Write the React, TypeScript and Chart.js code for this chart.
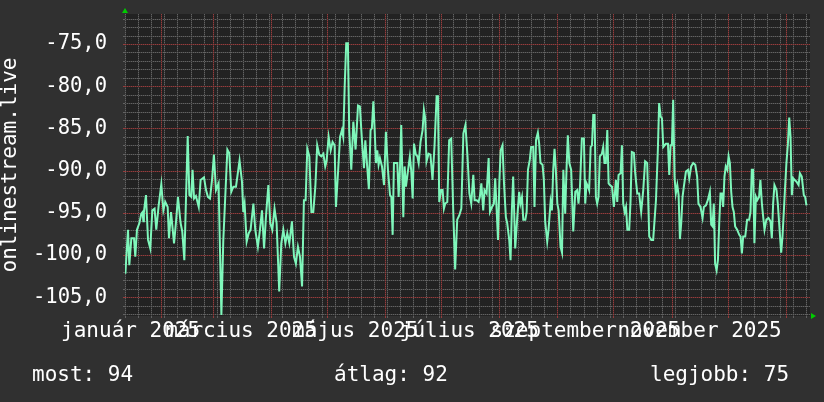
import React, { useEffect, useRef } from 'react';
import { Chart, registerables } from 'chart.js';

Chart.register(...registerables);

// ---- data (days counted from 2025-01-13) ----
const seriesName = 'onlinestream.live';

const days = [
  0.2, 1.6, 2.3, 3.4, 4.8, 5.5, 6.4, 7.7, 8.7, 9.4, 9.8, 10.1, 11.2, 12.3, 13.5, 14.6, 15.8, 16.7, 18.0, 19.4, 20.5, 21.5, 22.8, 23.5, 24.6, 26.2, 27.2, 28.3, 29.7, 30.6, 31.7, 33.5, 34.4, 35.4, 36.1, 36.9, 37.9, 39.4, 40.4, 42.2, 43.3, 44.3, 45.4, 46.5, 47.5, 48.6, 50.0, 51.5, 52.5, 54.7, 55.7, 56.8, 57.9, 59.3, 61.2,
  62.5, 63.2, 63.9, 65.0, 66.1, 67.1, 68.6, 69.6, 71.0, 72.1, 73.2, 74.3, 75.3, 76.6, 77.6, 78.7, 79.9, 81.0, 82.4, 83.5, 84.6, 85.7, 86.7, 87.8, 89.2, 90.3, 91.3, 92.4, 93.5, 94.6, 95.6, 96.5, 97.4, 98.5, 99.6, 100.6, 101.7, 102.7, 103.8, 104.9, 106.0, 107.0, 107.7, 108.8, 109.9, 110.9, 112.0, 112.7, 113.8, 114.9, 115.9, 116.6, 117.4, 118.2, 119.1, 119.8, 120.9, 122.0, 123.2,
  124.5, 125.5, 126.6, 127.7, 128.4, 129.4, 130.3, 131.2, 131.9, 132.7, 133.4, 134.1, 134.8, 135.5, 136.2, 137.3, 138.4, 139.4, 140.5, 141.6, 142.3, 143.0, 143.7, 144.8, 145.5, 146.2, 146.9, 147.6, 148.7, 149.4, 150.1, 150.8, 152.2, 152.9, 153.7, 154.4, 155.4, 156.2, 156.9, 157.9, 159.0, 159.7, 160.4, 161.1, 162.2, 163.2, 164.3, 165.4, 166.5, 167.2, 167.9, 168.9, 169.7, 170.4, 171.1, 172.2, 173.2, 174.3, 175.4, 176.4, 177.5, 178.6, 179.7, 180.8, 181.9, 183.0, 184.0, 185.0,
  186.1, 186.8, 187.9, 188.9, 189.6, 190.4, 191.4, 192.1, 193.2, 194.3, 195.0, 196.1, 197.1, 197.8, 198.5, 199.3, 200.0, 200.7, 201.7, 202.5, 203.5, 204.2, 205.3, 206.0, 206.7, 207.4, 208.5, 209.6, 210.6, 211.3, 212.1, 212.8, 213.9, 214.6, 215.3, 216.3, 217.0, 218.1, 218.8, 219.6, 220.6, 221.3, 222.0, 223.1, 223.8, 224.5, 225.6, 226.3, 227.4, 228.1, 228.8, 229.5, 230.2, 231.0, 231.7, 232.7, 233.5, 234.2, 235.2, 235.9, 236.6, 237.4, 238.4, 239.5, 240.6, 241.6, 242.3, 243.1, 244.1, 245.2, 245.9, 246.6, 247.4,
  248.0, 248.8, 249.5, 250.2, 250.9, 251.6, 252.3, 253.0, 253.7, 254.8, 255.5, 256.2, 256.9, 257.7, 258.4, 259.1, 260.2, 261.2, 262.3, 263.0, 263.7, 264.8, 265.5, 266.2, 267.0, 267.7, 268.4, 269.4, 270.1, 270.8, 271.9, 272.6, 273.7, 274.7, 275.8, 276.9, 277.9, 279.0, 280.1, 281.2, 282.2, 282.9, 283.7, 284.7, 285.4, 286.2, 286.9, 287.6, 288.3, 289.0, 290.1, 290.8, 291.5, 292.2, 292.9, 293.6, 294.3, 295.1, 295.8, 296.5, 297.2, 297.9, 298.6, 299.7, 300.8, 301.5, 302.5, 303.6, 304.7, 305.7, 306.4, 307.5, 308.6,
  309.3, 310.4, 311.4, 312.5, 313.2, 313.9, 314.6, 315.3, 316.1, 316.8, 317.5, 318.2, 318.9, 319.6, 320.3, 321.0, 321.8, 322.5, 323.2, 323.9, 324.6, 325.3, 326.0, 327.1, 328.2, 328.9, 329.6, 330.3, 331.4, 332.4, 333.5, 334.2, 334.9, 335.6, 336.3, 337.1, 337.8, 338.8, 339.5, 340.3, 341.0, 341.7, 342.7, 343.8, 344.9, 345.6, 346.3, 347.0, 348.1, 348.8, 349.5, 350.6, 351.3, 352.0, 352.7, 353.4, 354.2, 354.9, 355.6, 356.3, 357.0, 357.8, 358.8, 359.9, 360.6, 361.6, 362.7, 363.4, 364.1,
];

const values = [
  -102.2, -97.0, -101.2, -98.0, -98.0, -100.2, -97.0, -96.2, -95.1, -94.9, -96.0, -94.9, -92.9, -98.2, -99.2, -94.7, -94.5, -97.0, -94.1, -91.6, -94.7, -93.7, -94.3, -98.0, -94.9, -98.6, -96.2, -93.1, -96.2, -97.2, -100.6, -85.9, -92.9, -93.1, -89.9, -93.3, -93.0, -94.3, -91.1, -90.8, -92.3, -93.1, -93.3, -91.1, -88.1, -92.3, -91.5, -107.1, -98.4, -87.5, -87.9, -92.5, -91.9, -91.9, -88.8,
  -91.3, -94.9, -93.9, -98.4, -97.4, -97.0, -93.9, -97.0, -99.0, -97.0, -94.7, -99.2, -95.5, -91.7, -96.2, -97.0, -94.5, -96.2, -104.3, -98.6, -97.0, -98.6, -97.4, -98.6, -96.0, -100.2, -101.0, -99.0, -100.2, -103.7, -93.5, -93.5, -87.4, -88.3, -94.9, -94.9, -91.9, -87.0, -88.1, -88.3, -88.0, -89.5, -88.9, -86.0, -87.6, -86.6, -87.0, -94.3, -90.3, -86.0, -85.2, -86.0, -79.9, -74.9, -74.9, -85.2, -89.9, -84.2, -87.5,
  -82.3, -82.4, -86.4, -89.7, -86.4, -89.5, -92.2, -85.2, -85.0, -81.8, -85.2, -89.1, -87.6, -89.3, -88.5, -89.5, -91.7, -85.4, -89.9, -92.9, -93.1, -97.6, -89.1, -89.1, -89.1, -93.1, -89.9, -84.6, -95.5, -89.5, -91.9, -90.7, -88.3, -89.9, -93.3, -86.8, -88.1, -88.3, -89.1, -86.6, -85.2, -82.8, -83.8, -88.9, -88.0, -88.1, -91.1, -87.0, -81.2, -81.2, -93.7, -92.3, -92.3, -94.5, -93.9, -93.7, -86.4, -86.2, -94.9, -101.7, -95.8, -95.3, -94.5, -85.6, -84.6, -88.3, -92.7, -93.9,
  -90.5, -93.5, -93.5, -93.7, -93.1, -91.5, -94.7, -92.3, -92.7, -88.5, -94.9, -94.3, -93.9, -90.9, -94.3, -98.2, -91.5, -87.6, -87.0, -91.5, -95.5, -96.2, -98.2, -100.6, -94.7, -90.7, -99.2, -95.5, -92.5, -93.9, -93.1, -95.8, -95.8, -94.9, -89.9, -88.7, -87.2, -87.2, -94.3, -86.4, -85.5, -86.8, -89.1, -89.3, -91.1, -96.0, -98.4, -97.0, -93.7, -94.7, -89.9, -87.4, -89.9, -93.9, -94.7, -99.0, -99.7, -89.9, -95.1, -89.9, -85.8, -89.1, -89.9, -97.2, -92.5, -92.3, -93.9, -91.9, -86.2, -86.2, -93.9, -91.5, -91.9,
  -92.3, -87.2, -87.0, -83.4, -83.4, -93.1, -93.9, -93.1, -88.3, -88.0, -87.2, -89.1, -89.1, -85.2, -91.5, -91.7, -91.9, -94.3, -91.1, -93.7, -90.5, -90.3, -87.0, -93.9, -94.9, -94.3, -97.0, -97.0, -93.7, -87.8, -87.9, -90.3, -92.7, -92.7, -94.9, -92.3, -88.9, -89.1, -97.8, -98.2, -98.2, -96.0, -93.5, -87.6, -82.0, -83.6, -83.8, -87.2, -87.0, -86.8, -86.8, -90.5, -87.0, -87.0, -81.6, -90.7, -92.7, -91.7, -92.9, -98.1, -96.2, -93.1, -91.9, -90.1, -89.9, -90.9, -89.5, -89.1, -89.3, -90.7, -93.9, -94.3, -95.6,
  -94.3, -94.1, -93.5, -92.5, -96.4, -96.6, -93.9, -101.0, -101.8, -100.6, -96.2, -92.7, -92.7, -94.3, -90.7, -89.5, -89.9, -88.3, -89.1, -92.5, -94.3, -94.9, -96.6, -97.0, -97.6, -97.8, -99.8, -97.8, -97.8, -95.8, -95.8, -94.9, -89.9, -89.9, -98.6, -93.1, -93.5, -93.1, -91.1, -93.9, -95.5, -97.0, -95.8, -95.6, -96.0, -98.0, -93.9, -91.7, -92.3, -93.9, -96.2, -99.7, -97.8, -94.9, -91.9, -89.1, -86.8, -83.7, -86.0, -92.9, -90.9, -91.1, -91.3, -91.7, -90.3, -90.7, -92.9, -93.1, -94.1,
];

// axis structure
const xMin = 0;
const xMax = 366;
const yMin = -107.21;
const yMax = -71.45;
const weekStep = 7;
const monthStartDays = [19, 47, 78, 108, 139, 169, 200, 231, 261, 292, 322, 353];
const monthLabelDays = [3, 62, 123, 184, 246, 307];
const monthLabels = ['január 2025', 'március 2025', 'május 2025', 'július 2025', 'szeptember 2025', 'november 2025'];
const yLabelStep = 5;
const summaryLabels = ['most: 94', 'átlag: 92', 'legjobb: 75'];

// styles
const PAGE_BG = '#303030';
const PLOT_BG = '#222222';
const GRID_MINOR = '#626262';
const GRID_MINOR_GAP = '#3c3c3c';
const GRID_MAJOR = '#963c3c';
const GRID_MAJOR_GAP = '#552d2d';
const LINE_COLOR = '#7ff7bb';
const TEXT_COLOR = '#ffffff';
const ARROW_COLOR = '#00cc00';
const FONT_FAMILY = '"DejaVu Sans Mono", monospace';

export default function App() {
  const canvasRef = useRef<HTMLCanvasElement | null>(null);

  useEffect(() => {
    document.body.style.margin = '0';
    document.body.style.background = PAGE_BG;
    const canvas = canvasRef.current;
    if (!canvas) return;

    const monthSet = new Set(monthStartDays);
    const weekDays: number[] = [];
    for (let d = xMin; d <= xMax; d += weekStep) if (!monthSet.has(d)) weekDays.push(d);

    const yTickValues: number[] = [];
    for (let v = Math.ceil(yMin); v <= Math.floor(yMax); v++) yTickValues.push(v);

    const rrdPlugin = {
      id: 'rrdStyle',
      beforeDraw(chart: any) {
        const { ctx, chartArea } = chart;
        ctx.save();
        ctx.fillStyle = PAGE_BG;
        ctx.fillRect(0, 0, chart.width, chart.height);
        ctx.fillStyle = PLOT_BG;
        ctx.fillRect(chartArea.left, chartArea.top, chartArea.right - chartArea.left, chartArea.bottom - chartArea.top);
        ctx.restore();
      },
      beforeDatasetsDraw(chart: any) {
        const { ctx, chartArea } = chart;
        const xs = chart.scales.x;
        const ys = chart.scales.y;
        const left = Math.round(chartArea.left);
        const right = Math.round(chartArea.right);
        const top = Math.round(chartArea.top);
        const bottom = Math.round(chartArea.bottom);
        ctx.save();
        // dotted grid lines: bright dot every other pixel, dim pixel in between
        const hLine = (v: number, dot: string, gap: string) => {
          const py = Math.round(ys.getPixelForValue(v));
          ctx.fillStyle = gap;
          ctx.fillRect(left, py, right - left, 1);
          ctx.fillStyle = dot;
          for (let x = left; x < right; x += 2) ctx.fillRect(x, py, 1, 1);
          ctx.fillRect(left - 2, py, 2, 1);
        };
        const vLine = (d: number, dot: string, gap: string) => {
          const px = Math.round(xs.getPixelForValue(d));
          ctx.fillStyle = gap;
          ctx.fillRect(px, top, 1, bottom - top);
          ctx.fillStyle = dot;
          for (let y = top; y < bottom; y += 2) ctx.fillRect(px, y, 1, 1);
          ctx.fillRect(px, bottom, 1, 2);
        };
        yTickValues.filter((v) => v % yLabelStep !== 0).forEach((v) => hLine(v, GRID_MINOR, GRID_MINOR_GAP));
        weekDays.forEach((d) => vLine(d, GRID_MINOR, GRID_MINOR_GAP));
        yTickValues.filter((v) => v % yLabelStep === 0).forEach((v) => hLine(v, GRID_MAJOR, GRID_MAJOR_GAP));
        monthStartDays.forEach((d) => vLine(d, GRID_MAJOR, GRID_MAJOR_GAP));
        ctx.restore();
      },
      afterDraw(chart: any) {
        const { ctx, chartArea } = chart;
        ctx.save();
        // axis arrows
        ctx.fillStyle = ARROW_COLOR;
        ctx.beginPath();
        ctx.moveTo(chartArea.left - 3, chartArea.top - 1);
        ctx.lineTo(chartArea.left + 3, chartArea.top - 1);
        ctx.lineTo(chartArea.left, chartArea.top - 6);
        ctx.closePath();
        ctx.fill();
        ctx.beginPath();
        ctx.moveTo(chartArea.right + 1, chartArea.bottom - 3);
        ctx.lineTo(chartArea.right + 1, chartArea.bottom + 3);
        ctx.lineTo(chartArea.right + 6, chartArea.bottom);
        ctx.closePath();
        ctx.fill();
        // summary line
        ctx.fillStyle = TEXT_COLOR;
        ctx.font = '21px ' + FONT_FAMILY;
        ctx.textBaseline = 'alphabetic';
        ctx.textAlign = 'left';
        const xs = [32, 334, 650];
        summaryLabels.forEach((t, i) => ctx.fillText(t, xs[i], 381));
        ctx.restore();
      },
    };

    const chart = new Chart(canvas, {
      type: 'line',
      data: {
        datasets: [
          {
            label: seriesName,
            data: days.map((d, i) => ({ x: d, y: values[i] })),
            borderColor: LINE_COLOR,
            borderWidth: 2,
            pointRadius: 0,
            tension: 0,
            fill: false,
          },
        ],
      },
      options: {
        animation: false,
        responsive: false,
        devicePixelRatio: 1,
        layout: { padding: { left: 0, right: 14, top: 14, bottom: 0 } },
        plugins: { legend: { display: false }, tooltip: { enabled: false } },
        scales: {
          x: {
            type: 'linear',
            min: xMin,
            max: xMax,
            afterBuildTicks: (scale: any) => {
              scale.ticks = monthLabelDays.map((v) => ({ value: v }));
            },
            afterFit: (scale: any) => {
              scale.height = 86;
              scale.paddingLeft = 0;
              scale.paddingRight = 0;
              scale.paddingTop = 0;
              scale.paddingBottom = 0;
            },
            ticks: {
              autoSkip: false,
              maxRotation: 0,
              minRotation: 0,
              padding: 3,
              color: TEXT_COLOR,
              font: { family: FONT_FAMILY, size: 21 },
              callback: (value: any) => {
                const idx = monthLabelDays.indexOf(Number(value));
                return idx >= 0 ? monthLabels[idx] : '';
              },
            },
            grid: { display: false, drawTicks: false, tickLength: 0 },
            border: { display: false },
          },
          y: {
            type: 'linear',
            min: yMin,
            max: yMax,
            afterBuildTicks: (scale: any) => {
              scale.ticks = yTickValues.filter((v) => v % yLabelStep === 0).map((v) => ({ value: v }));
            },
            afterFit: (scale: any) => {
              scale.width = 125;
              scale.paddingLeft = 0;
              scale.paddingRight = 0;
              scale.paddingTop = 0;
              scale.paddingBottom = 0;
            },
            ticks: {
              autoSkip: false,
              padding: 18,
              color: TEXT_COLOR,
              font: { family: FONT_FAMILY, size: 20.5 },
              callback: (value: any) => Number(value).toFixed(1).replace('.', ','),
            },
            grid: { display: false, drawTicks: false, tickLength: 0 },
            border: { display: false },
            title: {
              display: true,
              text: seriesName,
              color: TEXT_COLOR,
              font: { family: FONT_FAMILY, size: 21, lineHeight: 1.05 },
              padding: { top: 0, bottom: 0 },
            },
          },
        },
      },
      plugins: [rrdPlugin],
    } as any);

    return () => chart.destroy();
  }, []);

  return (
    <div style={{ width: 824, height: 402, background: PAGE_BG }}>
      <canvas ref={canvasRef} width={824} height={402} style={{ display: 'block' }} />
    </div>
  );
}
